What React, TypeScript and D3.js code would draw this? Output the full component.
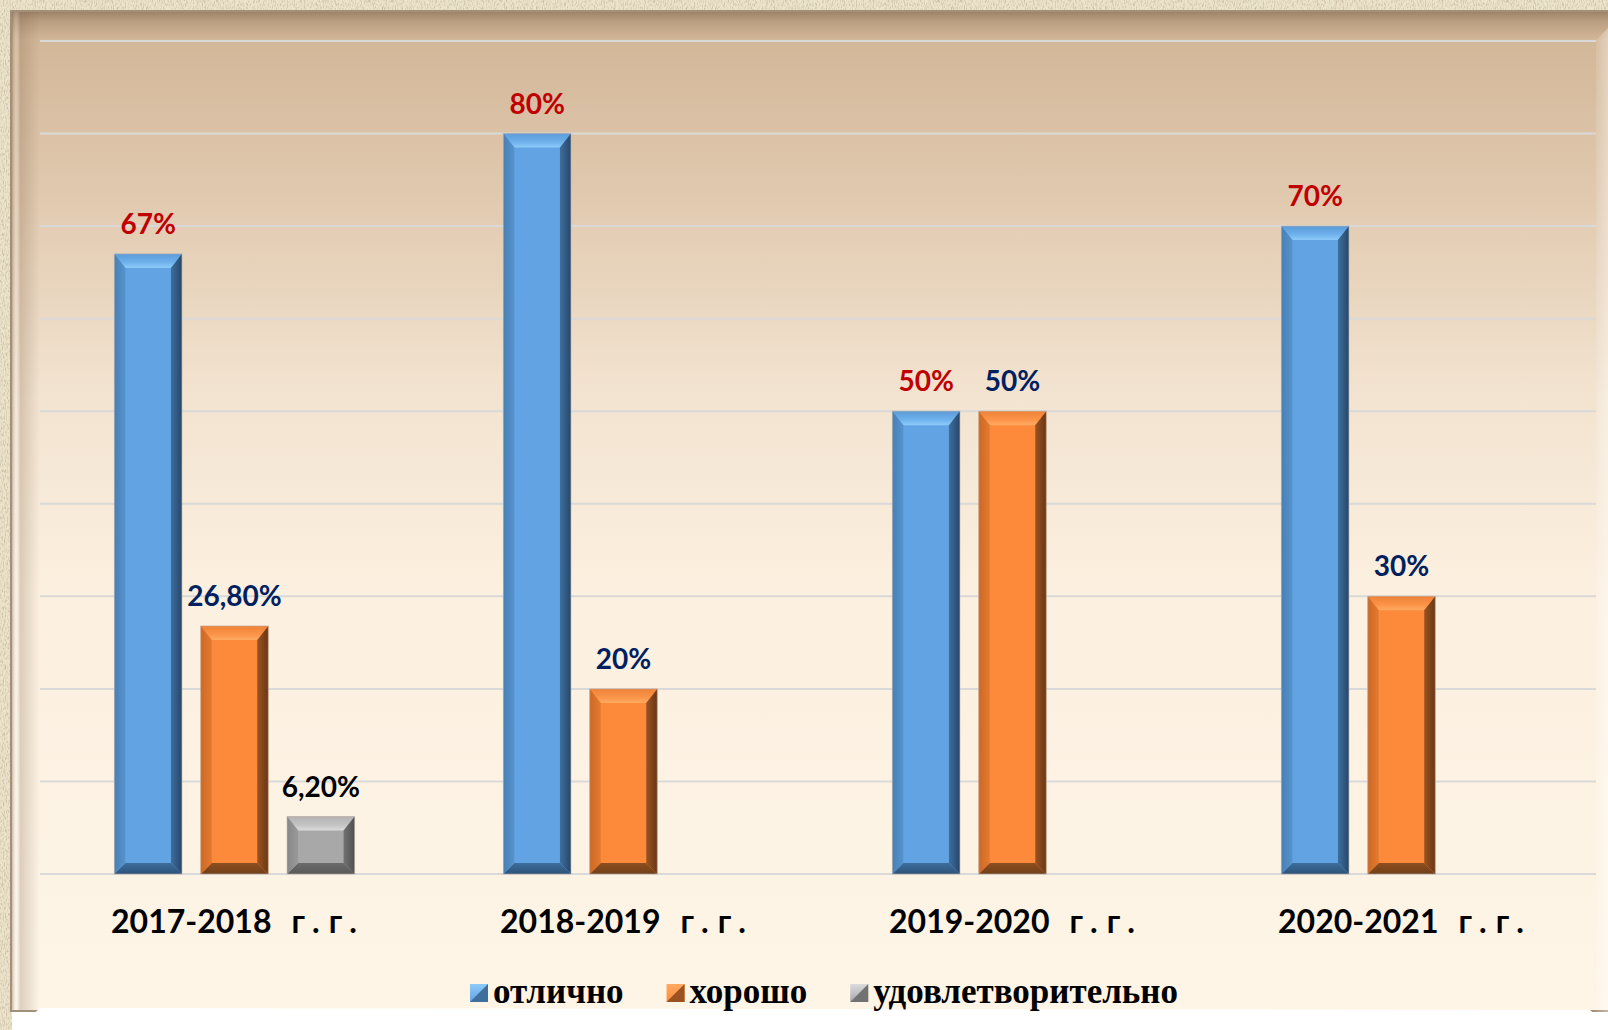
import React, { useEffect, useRef } from 'react';
import * as d3 from 'd3';

const categories = ['2017-2018', '2018-2019', '2019-2020', '2020-2021'];
const categorySuffix = 'г.г.';
const seriesNames = ['отлично', 'хорошо', 'удовлетворительно'];
const excellent = [67, 80, 50, 70];
const good = [26.8, 20, 50, 30];
const satisfactory: (number | null)[] = [6.2, null, null, null];
const excellentLabels = ['67%', '80%', '50%', '70%'];
const goodLabels = ['26,80%', '20%', '50%', '30%'];
const satisfactoryLabels = ['6,20%', '', '', ''];
const yTicks = [0, 10, 20, 30, 40, 50, 60, 70, 80, 90];

const W = 1608;
const H = 1030;

type Pal = { face: string; top: string[]; left: string[]; right: string[]; bottom: string[]; label: string };
const palettes: Pal[] = [
  { face: '#62a4e3', top: ['#5a9bd8', '#6fb1ec', '#8dcbfa'], left: ['#4880b6', '#5693cd'], right: ['#3e6f9d', '#27466a'], bottom: ['#3d6e9c', '#2d5378'], label: '#c00000' },
  { face: '#fd8a3a', top: ['#ee8238', '#fb9448', '#ffaa62'], left: ['#cc6824', '#e47a31'], right: ['#9a5222', '#6a3714'], bottom: ['#8e4e1f', '#713f19'], label: '#002060' },
  { face: '#a8a8a8', top: ['#b3b3b3', '#c4c4c4', '#dcdcdc'], left: ['#878787', '#9a9a9a'], right: ['#727272', '#505050'], bottom: ['#6b6b6b', '#585858'], label: '#000000' },
];

export default function App() {
  const ref = useRef<SVGSVGElement>(null);

  useEffect(() => {
    const svg = d3.select(ref.current);
    svg.selectAll('*').remove();
    const defs = svg.append('defs');

    // linen texture filter
    const f = defs.append('filter').attr('id', 'linen').attr('x', 0).attr('y', 0).attr('width', '100%').attr('height', '100%');
    f.append('feTurbulence').attr('type', 'fractalNoise').attr('baseFrequency', '0.9 0.3').attr('numOctaves', 2).attr('seed', 4).attr('result', 'n');
    f.append('feColorMatrix').attr('in', 'n').attr('type', 'matrix')
      .attr('values', '0 0 0 0 0.55  0 0 0 0 0.47  0 0 0 0 0.33  2.2 0 0 0 -0.95').attr('result', 'c');
    f.append('feComposite').attr('in', 'c').attr('in2', 'SourceGraphic').attr('operator', 'atop');

    const lin = (id: string, stops: [number, string, number?][], vertical: boolean, user?: [number, number, number, number]) => {
      const g = defs.append('linearGradient').attr('id', id);
      if (user) {
        g.attr('gradientUnits', 'userSpaceOnUse').attr('x1', user[0]).attr('y1', user[1]).attr('x2', user[2]).attr('y2', user[3]);
      } else {
        g.attr('x1', 0).attr('y1', 0).attr('x2', vertical ? 0 : 1).attr('y2', vertical ? 1 : 0);
      }
      stops.forEach(([o, c, op]) => g.append('stop').attr('offset', o).attr('stop-color', c).attr('stop-opacity', op ?? 1));
    };

    lin('panelBg', [[0, '#cdb091'], [0.03, '#d3b799'], [0.19, '#e1cab0'], [0.39, '#f3e4d1'], [0.59, '#fcf0e0'], [1, '#fef5e6']], true, [0, 11, 0, 1010]);
    lin('topBevel', [[0, '#6e5640', 0.5], [0.35, '#8a6f55', 0.3], [1, '#a08060', 0]], true);
    lin('leftBevel', [[0, '#6e5640', 0.35], [0.15, '#ffffff', 0.15], [0.3, '#7a6048', 0.25], [1, '#7a6048', 0]], false);
    lin('rightBevel', [[0, '#ffffff', 0.1], [1, '#ffffff', 0.35]], false);

    palettes.forEach((p, i) => {
      lin(`top${i}`, [[0, p.top[0]], [0.6, p.top[1]], [1, p.top[2]]], true);
      lin(`left${i}`, [[0, p.left[0]], [1, p.left[1]]], false);
      lin(`right${i}`, [[0, p.right[0]], [1, p.right[1]]], false);
      lin(`bottom${i}`, [[0, p.bottom[0]], [1, p.bottom[1]]], true);
      lin(`mk${i}`, [[0, p.top[2]], [1, p.face]], true);
    });

    // page background
    svg.append('rect').attr('width', W).attr('height', H).attr('fill', '#ffffff');
    // texture strips
    svg.append('rect').attr('x', 0).attr('y', 0).attr('width', W).attr('height', 12).attr('fill', '#ece3cb').attr('filter', 'url(#linen)');
    svg.append('rect').attr('x', 0).attr('y', 0).attr('width', 12).attr('height', H).attr('fill', '#ece3cb').attr('filter', 'url(#linen)');

    // panel
    svg.append('rect').attr('x', 10).attr('y', 10).attr('width', W - 10).attr('height', 1002).attr('fill', '#a39078');
    svg.append('rect').attr('x', 12).attr('y', 12).attr('width', W - 12).attr('height', 998).attr('fill', 'url(#panelBg)');
    svg.append('rect').attr('x', 12).attr('y', 12).attr('width', W - 12).attr('height', 28).attr('fill', 'url(#topBevel)');
    svg.append('rect').attr('x', 12).attr('y', 12).attr('width', 28).attr('height', 998).attr('fill', 'url(#leftBevel)');
    svg.append('path').attr('d', `M1596,40 L${W},28 L${W},1012 L1596,1012 Z`).attr('fill', 'url(#rightBevel)');
    // white bottom area
    svg.append('path').attr('d', `M16,${H} L40,1008 L1590,1010 L${W},1026 L${W},${H} Z`).attr('fill', '#ffffff');

    const x0 = d3.scaleBand<string>().domain(categories).range([40, 1596]).paddingInner(0).paddingOuter(0);
    const x1 = d3.scaleBand<string>().domain(seriesNames).range([0, x0.bandwidth()]).paddingInner(0.218).paddingOuter(0.862);
    const y = d3.scaleLinear().domain([0, 90]).range([874, 41]);

    // gridlines
    svg.append('g').selectAll('line').data(yTicks).join('line')
      .attr('x1', 40).attr('x2', 1596)
      .attr('y1', (d) => y(d)).attr('y2', (d) => y(d))
      .attr('stroke', '#d9d9d9').attr('stroke-width', 2);

    const series = [
      { name: seriesNames[0], values: excellent as (number | null)[], labels: excellentLabels },
      { name: seriesNames[1], values: good as (number | null)[], labels: goodLabels },
      { name: seriesNames[2], values: satisfactory, labels: satisfactoryLabels },
    ];

    const bars = svg.append('g');
    series.forEach((s, si) => {
      s.values.forEach((v, ci) => {
        if (v == null) return;
        const x = (x0(categories[ci]) ?? 0) + (x1(s.name) ?? 0);
        const w = x1.bandwidth();
        const yt = y(v);
        const yb = y(0);
        const h = yb - yt;
        const b = Math.min(11, h / 3);
        const bt = Math.min(14, h / 3);
        const g = bars.append('g');
        g.append('rect').attr('x', x).attr('y', yt).attr('width', w).attr('height', h).attr('fill', palettes[si].face);
        g.append('polygon').attr('points', `${x},${yt} ${x + w},${yt} ${x + w - b},${yt + bt} ${x + b},${yt + bt}`).attr('fill', `url(#top${si})`);
        g.append('polygon').attr('points', `${x},${yb} ${x + w},${yb} ${x + w - b},${yb - b} ${x + b},${yb - b}`).attr('fill', `url(#bottom${si})`);
        g.append('polygon').attr('points', `${x},${yt} ${x + b},${yt + bt} ${x + b},${yb - b} ${x},${yb}`).attr('fill', `url(#left${si})`);
        g.append('polygon').attr('points', `${x + w},${yt} ${x + w - b},${yt + bt} ${x + w - b},${yb - b} ${x + w},${yb}`).attr('fill', `url(#right${si})`);
        g.append('rect').attr('x', x).attr('y', yt).attr('width', w).attr('height', h).attr('fill', 'none')
          .attr('stroke', '#b9aea3').attr('stroke-opacity', 0.6).attr('stroke-width', 1);
        g.append('text').attr('x', x + w / 2).attr('y', yt - 20).attr('text-anchor', 'middle')
          .attr('font-family', 'Lato, "Open Sans", sans-serif').attr('font-weight', 'bold').attr('font-size', 28)
          .attr('fill', palettes[si].label).text(s.labels[ci]);
      });
    });

    // category labels
    const cat = svg.append('g');
    categories.forEach((c) => {
      const t = cat.append('text').attr('x', (x0(c) ?? 0) + x0.bandwidth() / 2 + 4).attr('y', 933).attr('text-anchor', 'middle')
        .attr('font-family', 'Lato, "Open Sans", sans-serif').attr('font-weight', 'bold').attr('font-size', 32).attr('fill', '#000');
      t.append('tspan').text(c);
      t.append('tspan').attr('dx', 20).attr('letter-spacing', 9).text(categorySuffix);
    });

    // legend
    const leg = svg.append('g');
    const items = seriesNames.map((n, i) => {
      const gi = leg.append('g');
      const mk = 18;
      gi.append('rect').attr('x', 0).attr('y', 984).attr('width', mk).attr('height', mk).attr('fill', `url(#mk${i})`);
      gi.append('polygon').attr('points', `${mk},984 ${mk},${984 + mk} 0,${984 + mk}`).attr('fill', palettes[i].right[0]);
      const t = gi.append('text').attr('x', 23).attr('y', 1003)
        .attr('font-family', '"Liberation Serif", "Times New Roman", serif').attr('font-weight', 'bold').attr('font-size', 35)
        .attr('fill', '#000').text(n);
      const tw = (t.node() as SVGTextElement).getComputedTextLength();
      return { gi, width: 23 + tw };
    });
    const gap = 43;
    const total = items.reduce((a, b) => a + b.width, 0) + gap * (items.length - 1);
    let cx = 824 - total / 2;
    items.forEach((it) => {
      it.gi.attr('transform', `translate(${cx},0)`);
      cx += it.width + gap;
    });
  }, []);

  return (
    <div style={{ position: 'absolute', left: 0, top: 0, width: W, height: H }}>
      <svg ref={ref} width={W} height={H} style={{ display: 'block' }} />
    </div>
  );
}
